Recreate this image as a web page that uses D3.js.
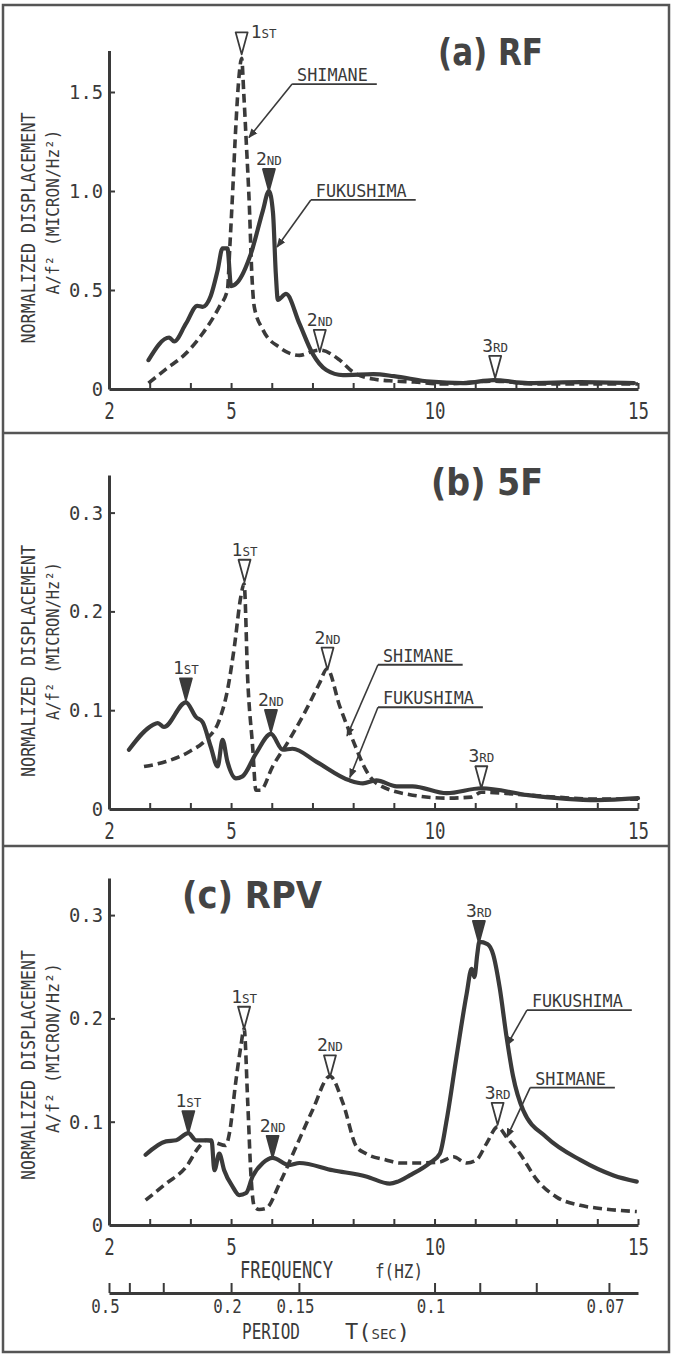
<!DOCTYPE html>
<html>
<head>
<meta charset="utf-8">
<script src="https://cdn.jsdelivr.net/npm/d3@7/dist/d3.min.js"></script>
<style>
  body { margin: 0; background: #fff; }
</style>
</head>
<body>
<script>
// ******************************************************
//   DATA  (frequency in Hz, normalized displacement A/f^2)
// ******************************************************
const freqTicks = [3, 4, 5, 6, 7, 8, 9, 10, 11, 12, 13, 14, 15];
const freqLabels = [2, 5, 10, 15];
const periodTicks = [0.5, 0.4, 0.3, 0.2, 0.15, 0.1, 0.09, 0.08, 0.07];
const periodLabels = [0.5, 0.2, 0.15, 0.1, 0.07];

const rfTicks = [0, 0.5, 1.0, 1.5];
const fiveFTicks = [0, 0.1, 0.2, 0.3];
const rpvTicks = [0, 0.1, 0.2, 0.3];

// (a) RF
const rfFukushima = [[2.97,0.146],[3.48,0.26],[3.6,0.24],[3.89,0.33],[4.17,0.42],[4.3,0.415],[4.5,0.47],
  [4.67,0.6],[4.79,0.71],[4.91,0.71],[5.0,0.52],[5.16,0.54],[5.49,0.685],[5.78,0.9],[5.93,1.0],[6.03,0.89],
  [6.1,0.58],[6.15,0.45],[6.35,0.48],[6.68,0.33],[7.0,0.18],[7.34,0.096],[7.75,0.07],[8.5,0.075],[9.0,0.065],
  [9.9,0.037],[10.7,0.03],[11.45,0.045],[12.3,0.03],[13.6,0.035],[14.9,0.03]];
const rfShimane = [[2.97,0.03],[3.4,0.1],[3.89,0.18],[4.3,0.28],[4.71,0.415],[4.91,0.5],[4.97,0.72],[5.04,1.0],
  [5.12,1.34],[5.2,1.59],[5.26,1.67],[5.31,1.5],[5.37,1.26],[5.45,0.92],[5.51,0.58],[5.57,0.415],[5.78,0.3],
  [6.19,0.21],[6.68,0.17],[7.0,0.19],[7.18,0.197],[7.67,0.146],[7.99,0.087],[8.5,0.05],[9.0,0.04],[9.5,0.035],
  [10.2,0.025],[11.45,0.04],[12.5,0.025],[15,0.025]];
const rfPeaks = [[5.26,1.69,"SHIMANE","1ST"],[5.93,1.0,"FUKUSHIMA","2ND"],[7.18,0.187,"SHIMANE","2ND"],[11.49,0.056,"SHIMANE","3RD"]];
const rfLegend = [["SHIMANE",6.5,1.54,5.44,1.27],["FUKUSHIMA",6.96,0.955,6.13,0.717]];

// (b) 5F
const fiveFFukushima = [[2.49,0.06],[3.07,0.085],[3.2,0.087],[3.35,0.083],[3.89,0.108],[4.14,0.093],[4.3,0.088],
  [4.5,0.063],[4.67,0.043],[4.79,0.07],[4.91,0.048],[5.12,0.031],[5.28,0.033],[5.61,0.056],[5.98,0.076],
  [6.27,0.06],[6.51,0.061],[7.09,0.048],[7.91,0.029],[8.24,0.026],[8.57,0.029],[9.07,0.023],[9.46,0.023],
  [10.3,0.016],[11.15,0.021],[12.3,0.014],[14.0,0.009],[15,0.011]];
const fiveFShimane = [[2.86,0.043],[3.4,0.048],[3.97,0.058],[4.38,0.07],[4.71,0.09],[4.91,0.12],[5.08,0.164],
  [5.24,0.215],[5.32,0.228],[5.41,0.13],[5.53,0.063],[5.61,0.019],[5.72,0.019],[6.02,0.043],[6.43,0.07],
  [6.84,0.1],[7.17,0.127],[7.36,0.142],[7.67,0.104],[7.99,0.07],[8.32,0.039],[8.57,0.026],[9.46,0.014],
  [10.3,0.011],[10.9,0.012],[11.15,0.017],[12,0.015],[13,0.012],[14,0.01],[15,0.01]];
const fiveFPeaks = [[3.89,0.11,"FUKUSHIMA","1ST"],[5.33,0.23,"SHIMANE","1ST"],[5.98,0.078,"FUKUSHIMA","2ND"],
  [7.37,0.141,"SHIMANE","2ND"],[11.15,0.021,"SHIMANE","3RD"]];
const fiveFLegend = [["SHIMANE",8.61,0.146,7.85,0.074],["FUKUSHIMA",8.61,0.103,7.92,0.032]];

// (c) RPV
const rpvFukushima = [[2.9,0.068],[3.4,0.081],[3.65,0.082],[3.95,0.089],[4.14,0.082],[4.38,0.082],[4.52,0.082],
  [4.59,0.053],[4.71,0.069],[4.83,0.053],[5.04,0.037],[5.2,0.029],[5.37,0.031],[5.53,0.047],[5.78,0.06],
  [6.02,0.065],[6.43,0.058],[6.68,0.06],[7.5,0.053],[8.32,0.047],[8.9,0.04],[9.1,0.042],[9.39,0.048],
  [9.88,0.06],[10.13,0.069],[10.3,0.102],[10.54,0.163],[10.79,0.224],[10.91,0.248],[10.98,0.24],[11.05,0.262],
  [11.1,0.274],[11.3,0.272],[11.44,0.262],[11.6,0.23],[11.77,0.182],[11.93,0.144],[12.18,0.111],[12.75,0.085],
  [13.58,0.063],[14.4,0.048],[14.97,0.042]];
const rpvShimane = [[2.9,0.024],[3.4,0.04],[3.89,0.056],[4.22,0.076],[4.38,0.082],[4.6,0.08],[4.87,0.077],
  [4.96,0.089],[5.12,0.14],[5.24,0.173],[5.32,0.19],[5.41,0.118],[5.49,0.047],[5.57,0.018],[5.69,0.015],
  [5.86,0.016],[6.19,0.04],[6.6,0.076],[7.0,0.111],[7.43,0.144],[7.75,0.118],[8.08,0.076],[8.32,0.069],
  [8.81,0.063],[9.14,0.06],[9.64,0.06],[10.13,0.061],[10.46,0.066],[10.79,0.06],[11.03,0.063],[11.28,0.079],
  [11.55,0.095],[11.77,0.085],[12.1,0.069],[12.51,0.044],[13.0,0.027],[13.58,0.019],[14.07,0.016],[14.97,0.013]];
const rpvPeaks = [[3.95,0.089,"FUKUSHIMA","1ST"],[5.32,0.19,"SHIMANE","1ST"],[6.02,0.065,"FUKUSHIMA","2ND"],
  [7.43,0.143,"SHIMANE","2ND"],[11.09,0.273,"FUKUSHIMA","3RD"],[11.55,0.097,"SHIMANE","3RD"]];
const rpvLegend = [["FUKUSHIMA",12.27,0.208,11.78,0.174],["SHIMANE",12.35,0.133,11.78,0.085]];

// ***************************************
//   LAYOUT
// ***************************************
const W = 673, H = 1355;
const ink = "#3a3a3a";
const mono = "'DejaVu Sans Mono', 'Liberation Mono', monospace";

const panels = [
  {title: "(a) RF", fuku: rfFukushima, shim: rfShimane, peaks: rfPeaks, legend: rfLegend, ticks: rfTicks,
   y0: 389, perUnit: 198, yTop: 1.71, tx: 438, ty: 65, tw: 105, lab1: [28, 228, 231], lab2: [53, 212, 165]},
  {title: "(b) 5F", fuku: fiveFFukushima, shim: fiveFShimane, peaks: fiveFPeaks, legend: fiveFLegend, ticks: fiveFTicks,
   y0: 809, perUnit: 988, yTop: 0.338, tx: 431, ty: 495, tw: 112, lab1: [28, 661, 232], lab2: [53, 641, 158]},
  {title: "(c) RPV", fuku: rpvFukushima, shim: rpvShimane, peaks: rpvPeaks, legend: rpvLegend, ticks: rpvTicks,
   y0: 1225, perUnit: 1033, yTop: 0.336, tx: 182, ty: 908, tw: 140, lab1: [28, 1065, 230], lab2: [53, 1048, 170]}
];

const svg = d3.select("body").append("svg")
  .attr("width", W).attr("height", H)
  .style("background", "#fff");

svg.append("defs").append("marker")
  .attr("id", "arr").attr("viewBox", "0 0 10 10")
  .attr("refX", 9).attr("refY", 5)
  .attr("markerWidth", 6).attr("markerHeight", 6)
  .attr("orient", "auto")
  .append("path").attr("d", "M0,1 L10,5 L0,9 Z").attr("fill", ink);

// frame
svg.append("rect").attr("x", 3).attr("y", 5).attr("width", 666).attr("height", 1347)
  .attr("fill", "none").attr("stroke", "#555").attr("stroke-width", 2.5);
[433, 846].forEach(function (yy) {
  svg.append("line").attr("x1", 3).attr("x2", 669).attr("y1", yy).attr("y2", yy)
    .attr("stroke", "#555").attr("stroke-width", 2.5);
});

const x = d3.scaleLinear().domain([2, 15]).range([109, 638]);

function condense(sel, perChar) {
  sel.attr("textLength", function () { return this.textContent.length * perChar; })
     .attr("lengthAdjust", "spacingAndGlyphs");
}

function styleAxis(g, size) {
  g.attr("font-family", mono).attr("font-size", size).attr("color", ink);
  g.select(".domain").attr("stroke-width", 3);
  g.selectAll(".tick line").attr("stroke-width", 2);
}

panels.forEach(function (p) {
  const y = d3.scaleLinear().domain([0, p.yTop]).range([p.y0, p.y0 - p.perUnit * p.yTop]);
  const g = svg.append("g");

  // x axis ticks
  const xa = g.append("g").attr("transform", "translate(0," + p.y0 + ")")
    .call(d3.axisBottom(x).tickValues(freqTicks).tickSizeInner(-6).tickSizeOuter(0).tickFormat(""));
  styleAxis(xa, 23);
  const xl = g.append("g").attr("transform", "translate(0," + p.y0 + ")")
    .call(d3.axisBottom(x).tickValues(freqLabels).tickSize(0).tickPadding(14));
  styleAxis(xl, 23);
  xl.select(".domain").remove();
  condense(xl.selectAll("text"), 10.5);

  // y axis
  const ya = g.append("g").attr("transform", "translate(" + x(2) + ",0)")
    .call(d3.axisLeft(y).tickValues(p.ticks).tickSizeInner(-6).tickSizeOuter(0).tickPadding(6)
      .tickFormat(function (d) { return d === 0 ? "0" : d.toFixed(1); }));
  styleAxis(ya, 20);
  ya.selectAll(".tick").filter(function (d) { return d === 0; }).select("line").remove();
  condense(ya.selectAll("text"), 11.3);

  // y labels
  g.append("text").attr("transform", "translate(" + p.lab1[0] + "," + p.lab1[1] + ") rotate(-90)")
    .attr("text-anchor", "middle").attr("dominant-baseline", "central")
    .attr("font-family", mono).attr("font-size", 20).attr("fill", ink)
    .attr("textLength", p.lab1[2]).attr("lengthAdjust", "spacingAndGlyphs")
    .text("NORMALIZED DISPLACEMENT");
  g.append("text").attr("transform", "translate(" + p.lab2[0] + "," + p.lab2[1] + ") rotate(-90)")
    .attr("text-anchor", "middle").attr("dominant-baseline", "central")
    .attr("font-family", mono).attr("font-size", 17).attr("fill", ink)
    .attr("textLength", p.lab2[2]).attr("lengthAdjust", "spacingAndGlyphs")
    .text("A/f\u00b2 (MICRON/Hz\u00b2)");

  // title
  g.append("text").attr("x", p.tx).attr("y", p.ty)
    .attr("font-family", "'DejaVu Sans', sans-serif").attr("font-weight", "bold")
    .attr("font-size", 38).attr("fill", "#444")
    .attr("textLength", p.tw).attr("lengthAdjust", "spacingAndGlyphs")
    .text(p.title);

  // peak markers
  p.peaks.forEach(function (d) {
    const px = x(d[0]), py = y(d[1]);
    const hollow = d[2] === "SHIMANE";
    g.append("path")
      .attr("d", "M" + (px - 6) + "," + (py - 22) + " L" + (px + 6) + "," + (py - 22) + " L" + px + "," + py + " Z")
      .attr("fill", hollow ? "#fff" : ink)
      .attr("stroke", ink).attr("stroke-width", 1.8).attr("stroke-linejoin", "round");
    const top = py - 22;
    const right = top < y(p.yTop);
    const t = g.append("text")
      .attr("x", right ? px + 9 : px).attr("y", right ? top + 6 : top - 4)
      .attr("text-anchor", right ? "start" : "middle")
      .attr("font-family", mono).attr("fill", ink);
    t.append("tspan").attr("font-size", 18).text(d[3].charAt(0));
    t.append("tspan").attr("font-size", 12.5).text(d[3].slice(1));
  });

  // curves
  const line = d3.line()
    .x(function (d) { return x(d[0]); })
    .y(function (d) { return y(d[1]); })
    .curve(d3.curveMonotoneX);
  g.append("path").datum(p.shim).attr("d", line)
    .attr("fill", "none").attr("stroke", ink).attr("stroke-width", 3.6)
    .attr("stroke-dasharray", "9,5").attr("stroke-linejoin", "round");
  g.append("path").datum(p.fuku).attr("d", line)
    .attr("fill", "none").attr("stroke", ink).attr("stroke-width", 4.2)
    .attr("stroke-linejoin", "round").attr("stroke-linecap", "round");

  // legend callouts
  p.legend.forEach(function (d) {
    const lx = x(d[1]), ly = y(d[2]);
    const tw = d[0].length * 10.1;
    g.append("line").attr("x1", lx).attr("x2", lx + tw + 14).attr("y1", ly).attr("y2", ly)
      .attr("stroke", ink).attr("stroke-width", 1.8);
    g.append("line").attr("x1", lx).attr("y1", ly).attr("x2", x(d[3])).attr("y2", y(d[4]))
      .attr("stroke", ink).attr("stroke-width", 1.6).attr("marker-end", "url(#arr)");
    g.append("text").attr("x", lx + 5).attr("y", ly - 3)
      .attr("font-family", mono).attr("font-size", 18).attr("fill", ink)
      .attr("textLength", tw).attr("lengthAdjust", "spacingAndGlyphs")
      .text(d[0]);
  });
});

// ***************************************
//   FREQUENCY / PERIOD CAPTIONS (panel c)
// ***************************************
svg.append("text").attr("x", 240).attr("y", 1278)
  .attr("font-family", mono).attr("font-size", 23).attr("fill", ink)
  .attr("textLength", 93).attr("lengthAdjust", "spacingAndGlyphs").text("FREQUENCY");
svg.append("text").attr("x", 375).attr("y", 1278)
  .attr("font-family", mono).attr("font-size", 19).attr("fill", ink)
  .attr("textLength", 48).attr("lengthAdjust", "spacingAndGlyphs").text("f(HZ)");

const pa = svg.append("g").attr("transform", "translate(0,1293)")
  .call(d3.axisBottom(x).tickValues(periodTicks.map(function (t) { return 1 / t; }))
    .tickSizeInner(-10).tickSizeOuter(0)
    .tickFormat(function (f) {
      const t = +(1 / f).toFixed(2);
      return periodLabels.indexOf(t) >= 0 ? String(t) : "";
    }));
styleAxis(pa, 19);
pa.selectAll("text").attr("y", 7).attr("dy", "0.71em")
  .attr("transform", "translate(-4,0)");
condense(pa.selectAll("text"), 9.5);

svg.append("text").attr("x", 242).attr("y", 1339)
  .attr("font-family", mono).attr("font-size", 22).attr("fill", ink)
  .attr("textLength", 58).attr("lengthAdjust", "spacingAndGlyphs").text("PERIOD");
const ts = svg.append("text").attr("x", 345).attr("y", 1339)
  .attr("font-family", mono).attr("fill", ink);
ts.append("tspan").attr("font-size", 22).text("T(");
ts.append("tspan").attr("font-size", 14).text("SEC");
ts.append("tspan").attr("font-size", 22).text(")");
</script>
</body>
</html>
